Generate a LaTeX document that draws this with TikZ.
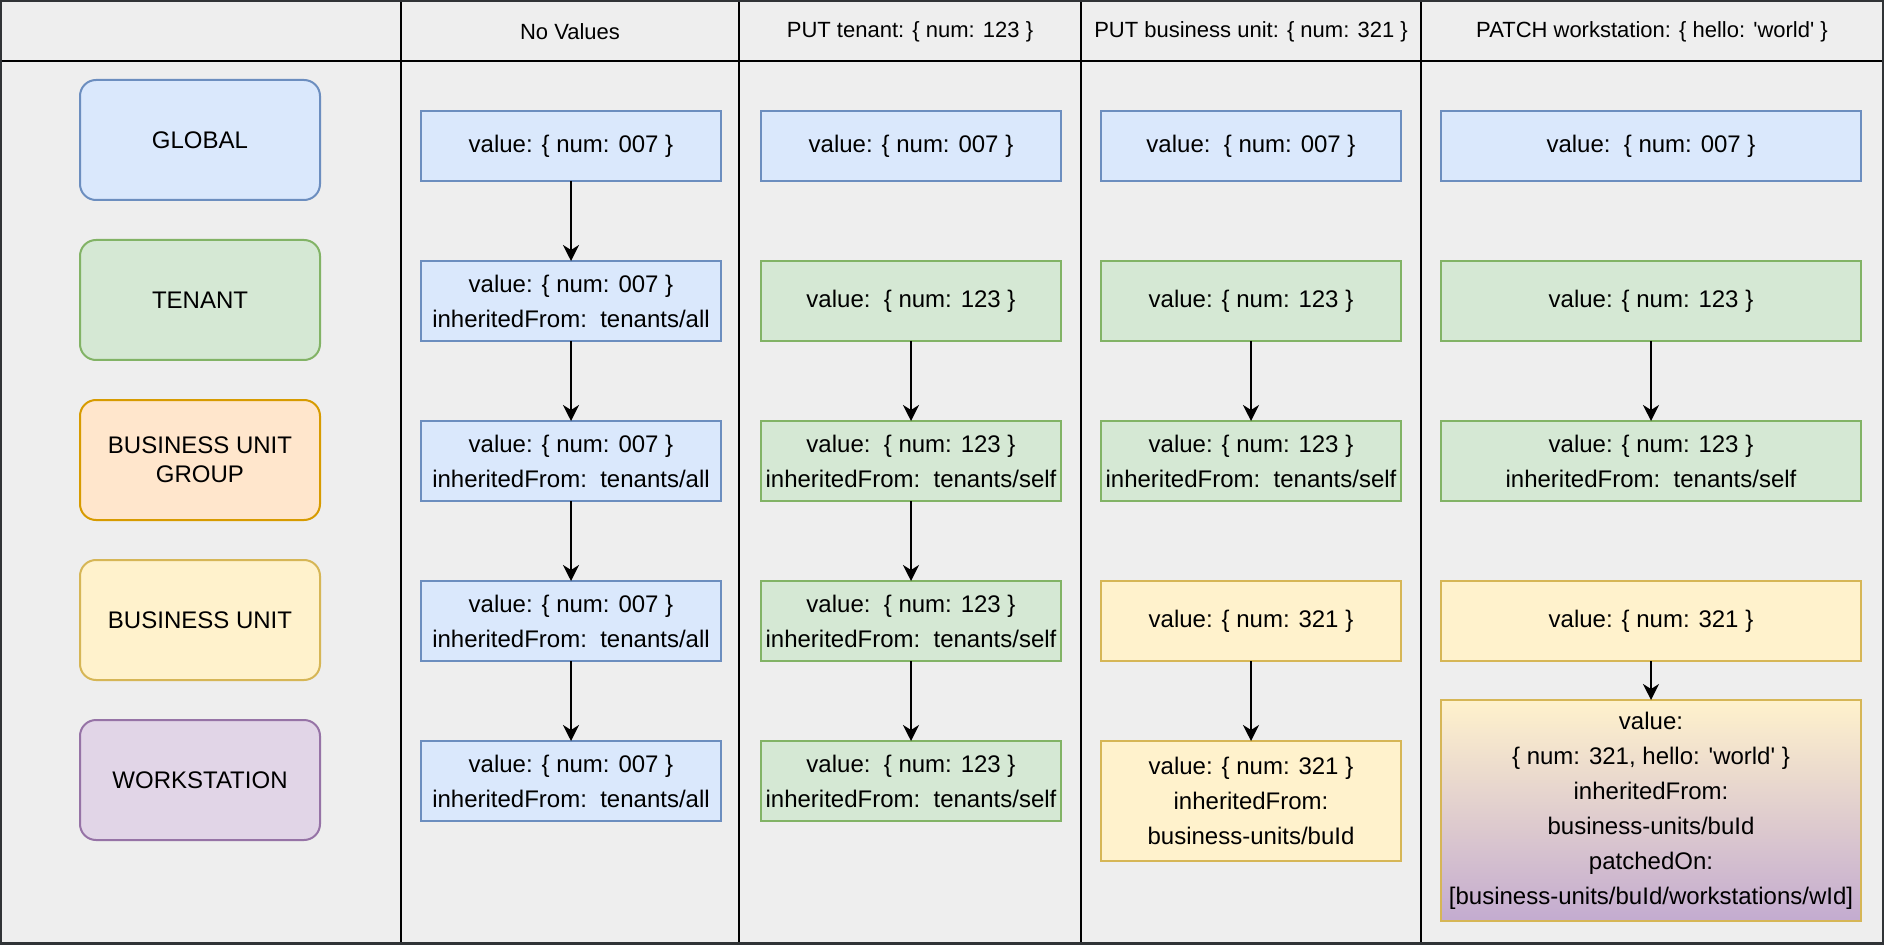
\documentclass[tikz,border=0pt]{standalone}
\usepackage{fontspec}
\setmainfont{Liberation Sans}
\usetikzlibrary{arrows.meta,positioning}

\definecolor{bgGray}{HTML}{EEEEEE}
\definecolor{frameDark}{HTML}{303336}
\definecolor{globFill}{HTML}{DAE8FC}
\definecolor{globLine}{HTML}{6C8EBF}
\definecolor{tenFill}{HTML}{D5E8D4}
\definecolor{tenLine}{HTML}{82B366}
\definecolor{bugFill}{HTML}{FFE6CC}
\definecolor{bugLine}{HTML}{D79B00}
\definecolor{buFill}{HTML}{FFF2CC}
\definecolor{buLine}{HTML}{D6B656}
\definecolor{wsFill}{HTML}{E1D5E7}
\definecolor{wsLine}{HTML}{9673A6}
\definecolor{wsShade}{HTML}{C3ABD0}

\newcommand{\sq}{\textquotesingle}

\tikzset{
  level/.style={draw, rounded corners=8pt, line width=1pt, outer sep=0pt, minimum width=120pt,
    minimum height=60pt, align=center, font=\fontsize{12}{14.5}\selectfont},
  val/.style={draw, line width=1pt, outer sep=0pt, minimum width=150pt, minimum height=40pt,
    inner sep=1pt, align=center, font=\fontsize{12}{17.5}\selectfont},
  wide/.style={val, minimum width=210pt},
  glob/.style={fill=globFill, draw=globLine},
  ten/.style={fill=tenFill, draw=tenLine},
  bug/.style={fill=bugFill, draw=bugLine},
  bu/.style={fill=buFill, draw=buLine},
  ws/.style={fill=wsFill, draw=wsLine},
  head/.style={font=\fontsize{11}{13}\selectfont},
  grid/.style={line width=1.2pt, black}
}

\begin{document}
\begin{tikzpicture}[x=0.5pt,y=0.5pt,node distance=40pt,>={Stealth[length=8pt,width=8pt,inset=2.5pt]}]
    \useasboundingbox (0,0) rectangle (1884,944);
    \fill[bgGray] (0,0) rectangle (1884,944);

    % table
    \draw[grid] (0,883) -- (1884,883);
    \foreach \x in {401,739,1081,1421}
        \draw[grid] (\x,0) -- (\x,944);
    \draw[frameDark, line width=1.6pt] (0,0) rectangle (1884,944);

    % column heads
    \node[head] (h_1) at (570,912) {No Values};
    \node[head] (h_2) at (910,912) {PUT tenant: \{ num: 123 \}};
    \node[head] (h_3) at (1251,912) {PUT business unit: \{ num: 321 \}};
    \node[head] (h_4) at (1652,912) {PATCH workstation: \{ hello: \sq world\sq{} \}};

    % levels
    \node[level, glob] (l_1) at (200,804) {GLOBAL};
    \node[level, ten] [below=20pt of l_1] (l_2) {TENANT};
    \node[level, bug] [below=20pt of l_2] (l_3) {BUSINESS UNIT\\GROUP};
    \node[level, bu] [below=20pt of l_3] (l_4) {BUSINESS UNIT};
    \node[level, ws] [below=20pt of l_4] (l_5) {WORKSTATION};

    % no values
    \node[val, glob, minimum height=35pt] (a_1) at (571,798) {value: \{ num: 007 \}};
    \node[val, glob] [below=of a_1] (a_2) {value: \{ num: 007 \}\\inheritedFrom:\ \ tenants/all};
    \node[val, glob] [below=of a_2] (a_3) {value: \{ num: 007 \}\\inheritedFrom:\ \ tenants/all};
    \node[val, glob] [below=of a_3] (a_4) {value: \{ num: 007 \}\\inheritedFrom:\ \ tenants/all};
    \node[val, glob] [below=of a_4] (a_5) {value: \{ num: 007 \}\\inheritedFrom:\ \ tenants/all};

    % put tenant
    \node[val, glob, minimum height=35pt] (b_1) at (911,798) {value: \{ num: 007 \}};
    \node[val, ten] [below=of b_1] (b_2) {value:\ \ \{ num: 123 \}};
    \node[val, ten] [below=of b_2] (b_3) {value:\ \ \{ num: 123 \}\\inheritedFrom:\ \ tenants/self};
    \node[val, ten] [below=of b_3] (b_4) {value:\ \ \{ num: 123 \}\\inheritedFrom:\ \ tenants/self};
    \node[val, ten] [below=of b_4] (b_5) {value:\ \ \{ num: 123 \}\\inheritedFrom:\ \ tenants/self};

    % put business unit
    \node[val, glob, minimum height=35pt] (c_1) at (1251,798) {value:\ \ \{ num: 007 \}};
    \node[val, ten] [below=of c_1] (c_2) {value: \{ num: 123 \}};
    \node[val, ten] [below=of c_2] (c_3) {value: \{ num: 123 \}\\inheritedFrom:\ \ tenants/self};
    \node[val, bu] [below=of c_3] (c_4) {value: \{ num: 321 \}};
    \node[val, bu, minimum height=60pt] [below=of c_4] (c_5) {value: \{ num: 321 \}\\inheritedFrom:\\business-units/buId};

    % patch workstation
    \node[wide, glob, minimum height=35pt] (d_1) at (1651,798) {value:\ \ \{ num: 007 \}};
    \node[wide, ten] [below=of d_1] (d_2) {value: \{ num: 123 \}};
    \node[wide, ten] [below=of d_2] (d_3) {value: \{ num: 123 \}\\inheritedFrom:\ \ tenants/self};
    \node[wide, bu] [below=of d_3] (d_4) {value: \{ num: 321 \}};
    \node[wide, draw=buLine, top color=buFill, bottom color=wsShade, minimum height=110.5pt]
        [below=19.5pt of d_4] (d_5) {value:\\\{ num: 321, hello: \sq world\sq{} \}\\inheritedFrom:\\business-units/buId\\patchedOn:\\{}[business-units/buId/workstations/wId]};

    \path[->, line width=1.1pt]
        (a_1) edge (a_2)
        (a_2) edge (a_3)
        (a_3) edge (a_4)
        (a_4) edge (a_5)
        (b_2) edge (b_3)
        (b_3) edge (b_4)
        (b_4) edge (b_5)
        (c_2) edge (c_3)
        (c_4) edge (c_5)
        (d_2) edge (d_3)
        (d_4) edge (d_5);
\end{tikzpicture}
\end{document}
